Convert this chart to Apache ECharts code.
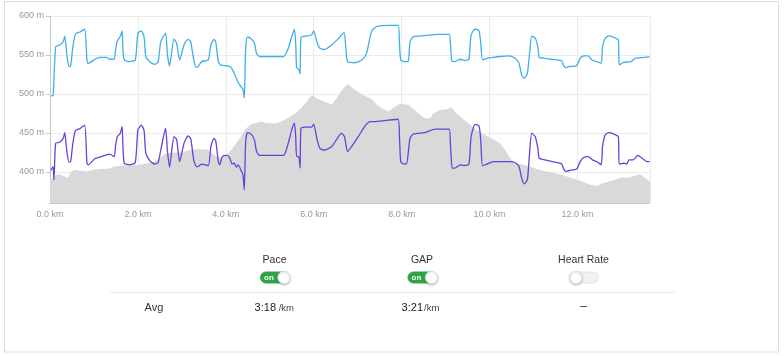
<!DOCTYPE html>
<html><head><meta charset="utf-8">
<script src="https://cdn.jsdelivr.net/npm/echarts@6/dist/echarts.min.js"></script>
<style>html,body{margin:0;padding:0;background:#fff}#c{width:784px;height:356px}</style>
</head><body><div id="c"></div>
<script>
// Elevation profile [km, m]
var elevation = [[0,389],[0.02,389.7],[0.11,394.9],[0.18,397],[0.30,395],[0.40,392],[0.47,399],[0.56,402.6],[0.68,401.3],[0.83,400.4],[0.98,402.6],[1.17,403.5],[1.36,404.3],[1.47,406.8],[1.70,408.6],[1.93,408.6],[2.16,410.3],[2.38,413.2],[2.50,417.5],[2.61,423],[2.76,424.8],[2.99,424.8],[3.22,428.2],[3.39,429],[3.56,429],[3.64,426],[3.79,419.6],[3.90,417.5],[4.02,421.8],[4.13,428.2],[4.21,434.6],[4.32,443],[4.43,453.8],[4.55,460.3],[4.66,462.4],[4.81,464.5],[4.93,462.4],[5.15,462.4],[5.34,466.7],[5.53,473],[5.71,481.7],[5.84,490],[5.95,498.7],[6.03,495.7],[6.14,492.3],[6.29,489],[6.41,486],[6.52,494.5],[6.63,504],[6.77,512.8],[6.94,505],[7.13,498.7],[7.32,493.2],[7.47,484.6],[7.62,479.5],[7.70,477.3],[7.81,482.4],[7.96,487.2],[8.15,486],[8.30,479.5],[8.42,473],[8.53,468.8],[8.65,468.8],[8.72,475],[8.87,479.5],[9.03,480.4],[9.14,482.5],[9.25,475],[9.40,467.5],[9.56,460.3],[9.71,453.8],[9.90,447.4],[10.05,443],[10.24,436.8],[10.35,428.2],[10.47,417.5],[10.58,411],[10.77,409],[10.96,406],[11.19,401.7],[11.42,399],[11.64,396],[11.87,392],[12.10,387.6],[12.29,383.3],[12.44,382],[12.55,384.6],[12.71,387.6],[12.86,389.7],[13.01,393.2],[13.09,392],[13.20,393],[13.31,394.9],[13.43,397],[13.54,392],[13.65,387.6]];
// Pace line (plotted in chart units)
var pace = [[0.02,497.4],[0.07,498],[0.13,560.6],[0.22,562.8],[0.30,567],[0.335,574],[0.38,552],[0.43,535],[0.47,536],[0.52,560.6],[0.58,577],[0.68,579.5],[0.79,583],[0.84,543.6],[0.87,539],[1.02,544.5],[1.13,547],[1.28,547],[1.36,544.5],[1.46,544.5],[1.49,556],[1.53,568],[1.60,574],[1.64,581],[1.66,556],[1.69,543.6],[1.81,541.4],[1.94,543.6],[2.00,578],[2.08,581],[2.14,573.5],[2.18,548],[2.27,541.4],[2.38,538],[2.46,541],[2.52,567],[2.63,578],[2.67,551],[2.72,536],[2.82,570.5],[2.88,565],[2.95,543.6],[3.05,563],[3.14,570],[3.20,567],[3.27,543.6],[3.33,534],[3.37,535],[3.45,541.4],[3.60,543.6],[3.66,563],[3.73,570],[3.77,567],[3.83,541.4],[3.89,537],[4.05,536],[4.13,533],[4.19,526.5],[4.27,516],[4.36,508],[4.39,506],[4.42,494.5],[4.45,556.4],[4.49,572.7],[4.57,571],[4.65,565],[4.70,552],[4.77,548],[5.31,548],[5.42,558.5],[5.50,573.5],[5.56,583],[5.59,565],[5.61,534],[5.66,531.6],[5.69,525.6],[5.71,572.7],[5.80,574],[5.95,575.6],[6.00,581],[6.07,567],[6.14,558.6],[6.25,557],[6.41,563],[6.56,571],[6.69,578.6],[6.73,560],[6.77,541.4],[6.94,540],[7.09,543.6],[7.20,552],[7.26,567],[7.32,581],[7.43,586.3],[7.70,588],[7.92,588],[7.95,565],[7.98,543.6],[8.08,541.4],[8.15,541.4],[8.19,567],[8.27,573.5],[8.53,574.8],[8.83,576.5],[9.08,576.5],[9.11,565],[9.14,542.7],[9.21,541.4],[9.33,544.5],[9.44,542.7],[9.53,544.5],[9.58,575.6],[9.67,583.3],[9.76,581],[9.80,565],[9.84,543.6],[9.94,545.7],[10.09,547],[10.24,548],[10.43,548.7],[10.58,545.7],[10.67,539.4],[10.73,524.4],[10.79,520],[10.86,526.5],[10.91,552],[10.96,574.4],[11.04,571.4],[11.10,560],[11.13,547],[11.26,545.7],[11.53,543.6],[11.64,542.7],[11.68,537],[11.73,533.7],[11.81,535],[11.98,536.3],[12.06,545.7],[12.14,548.7],[12.24,548.7],[12.33,543.6],[12.44,541.4],[12.54,539.4],[12.57,560.6],[12.63,571.4],[12.71,574.4],[12.82,572.7],[12.93,569],[12.95,537],[13.05,540.6],[13.22,541.4],[13.31,545.7],[13.47,546.5],[13.64,548]];
// GAP line (plotted in chart units)
var gap = [[0.02,401.7],[0.07,406.8],[0.09,389.7],[0.13,436.8],[0.22,438],[0.30,443],[0.335,450.4],[0.38,428],[0.43,412.4],[0.47,413],[0.52,436.8],[0.58,453],[0.68,455.5],[0.79,460],[0.84,411],[0.87,409],[1.02,416.7],[1.17,419.6],[1.28,421.8],[1.36,422.6],[1.46,419.6],[1.49,432.4],[1.53,445],[1.60,449.6],[1.64,458],[1.66,432],[1.69,411],[1.81,409],[1.94,412],[2.00,453.8],[2.08,460],[2.14,453],[2.18,424],[2.27,414.5],[2.38,410],[2.46,412],[2.52,428],[2.63,456],[2.67,428],[2.72,406],[2.82,445],[2.88,442],[2.95,413.2],[3.05,436.8],[3.14,446],[3.20,443],[3.27,415.4],[3.33,406.8],[3.37,406.8],[3.45,410],[3.60,408],[3.66,432.4],[3.73,443],[3.77,440],[3.83,413],[3.86,409],[3.92,419.6],[4.02,421],[4.09,417.5],[4.14,410],[4.19,411],[4.24,406],[4.28,409],[4.36,400.4],[4.39,396],[4.42,377],[4.45,436.8],[4.49,450.4],[4.57,448.7],[4.65,441],[4.70,426],[4.77,421],[5.31,421],[5.42,436.8],[5.50,453.8],[5.56,462.4],[5.59,445],[5.61,419.6],[5.66,419.6],[5.69,404.7],[5.71,456],[5.80,457.3],[5.95,457.3],[6.00,461],[6.07,443],[6.14,430],[6.25,428],[6.41,432.4],[6.56,445],[6.63,449.6],[6.70,445],[6.77,426],[6.86,432.4],[7.01,445],[7.17,459],[7.28,464.5],[7.39,464.5],[7.62,465.8],[7.92,467.5],[7.95,445],[7.98,413.2],[8.04,410.3],[8.11,410.3],[8.15,424],[8.19,443],[8.27,448.7],[8.53,450.4],[8.76,454.7],[9.08,454.7],[9.11,435],[9.15,404.7],[9.21,404.7],[9.33,409],[9.42,408],[9.53,410],[9.58,445],[9.67,461],[9.76,458.8],[9.80,440],[9.84,407.7],[9.94,410],[10.09,413.2],[10.43,413.2],[10.58,412],[10.67,406.8],[10.73,392],[10.79,384.6],[10.86,389.7],[10.91,424],[10.96,449.6],[11.04,445],[11.10,430],[11.13,417.5],[11.26,415.4],[11.53,412],[11.64,410],[11.68,404.7],[11.73,400.4],[11.81,401.7],[11.98,403.5],[12.06,413.2],[12.14,418.4],[12.24,419.6],[12.34,415.4],[12.44,413],[12.54,409],[12.57,432.4],[12.63,447.4],[12.71,450.4],[12.82,448.7],[12.93,445],[12.95,410],[13.05,411],[13.12,410],[13.17,415.4],[13.27,415.4],[13.37,421],[13.47,417.5],[13.58,413.2],[13.64,413.2]];

var columns = ['Pace', 'GAP', 'Heart Rate'];
var toggles = [true, true, false];
var avgValues = ['3:18', '3:21', '–'];
var avgUnits = [' /km', '/km', ''];
var rowLabel = 'Avg';
var distanceMax = 13.65;

var FONT = '"Liberation Sans", Helvetica, Arial, sans-serif';
var colX = [274.5, 422, 583.5];

var graphic = [
  {type:'rect', shape:{x:4.5,y:1.5,width:774,height:350.5}, style:{fill:'none', stroke:'#dddde5', lineWidth:1}, silent:true},
  {type:'line', shape:{x1:110,y1:292.5,x2:675,y2:292.5}, style:{stroke:'#e8e8e8', lineWidth:1}},
  {type:'text', x:154, y:307.5, style:{text:rowLabel, font:'11px '+FONT, fill:'#333', textAlign:'center', textVerticalAlign:'middle', align:'center', verticalAlign:'middle'}}
];
columns.forEach(function(name, i){
  var cx = colX[i];
  graphic.push({type:'text', x:cx, y:260.5, style:{text:name, font:'10.5px '+FONT, fill:'#333', textAlign:'center', textVerticalAlign:'middle', align:'center', verticalAlign:'middle'}});
  var on = toggles[i];
  var rx = cx - 14;
  graphic.push({type:'rect', shape:{x:rx, y:272, width:29, height:11, r:5.5}, style:{fill: on ? '#2fa646' : '#f1f1f1', stroke: on ? '#2fa646' : '#e4e4e4', lineWidth:1}});
  if (on) {
    graphic.push({type:'text', x:rx+8.5, y:277.3, style:{text:'on', font:'bold 8px '+FONT, fill:'#fff', textAlign:'center', textVerticalAlign:'middle', align:'center', verticalAlign:'middle'}});
  }
  graphic.push({type:'circle', shape:{cx: on ? rx+23.5 : rx+6.5, cy:277.5, r:6.3}, style:{fill:'#fff', stroke:'#dcdcdc', lineWidth:0.8, shadowBlur:2, shadowColor:'rgba(0,0,0,0.25)', shadowOffsetY:1}});
  if (avgUnits[i]) {
    var splitX = i === 0 ? cx + 1.5 : cx + 1;
    graphic.push({type:'text', x:splitX, y:308, style:{text:avgValues[i], font:'11px '+FONT, fill:'#222', textAlign:'right', textVerticalAlign:'middle', align:'right', verticalAlign:'middle'}});
    graphic.push({type:'text', x:splitX + (i === 0 ? 0 : 1), y:308.5, style:{text:avgUnits[i], font:'9.5px '+FONT, fill:'#444', textAlign:'left', textVerticalAlign:'middle', align:'left', verticalAlign:'middle'}});
  } else {
    graphic.push({type:'text', x:cx, y:307, style:{text:avgValues[i], font:'12px '+FONT, fill:'#333', textAlign:'center', textVerticalAlign:'middle', align:'center', verticalAlign:'middle'}});
  }
});

var chart = echarts.init(document.getElementById('c'), null, {renderer:'canvas'});
chart.setOption({
  animation:false,
  backgroundColor:'#fff',
  grid:{left:50, right:134, top:16, bottom:153, containLabel:false},
  xAxis:{
    type:'value', min:0, max:distanceMax, interval:2,
    axisLine:{show:true, lineStyle:{color:'#c8c8c8'}},
    axisTick:{show:false},
    axisLabel:{formatter:function(v){return v.toFixed(1)+' km';}, color:'#999', fontSize:9, fontFamily:FONT, margin:7, showMaxLabel:false},
    splitLine:{show:true, lineStyle:{color:'#ebebeb'}}
  },
  yAxis:{
    type:'value', min:360, max:600, splitNumber:5,
    axisLine:{show:true, lineStyle:{color:'#c8c8c8'}},
    axisTick:{show:true, length:4, lineStyle:{color:'#c8c8c8'}},
    axisLabel:{formatter:function(v){return v+' m';}, color:'#999', fontSize:9, fontFamily:FONT, margin:6, showMinLabel:false},
    splitLine:{show:true, lineStyle:{color:'#ebebeb'}}
  },
  series:[
    {type:'line', name:'Elevation', data:elevation, showSymbol:false, symbol:'none', lineStyle:{width:0}, areaStyle:{color:'#d9d9d9', opacity:1}, z:1},
    {type:'line', name:'Pace', data:pace, showSymbol:false, symbol:'none', smooth:0.2, lineStyle:{color:'#3bb0ea', width:1.3}, z:3},
    {type:'line', name:'GAP', data:gap, showSymbol:false, symbol:'none', smooth:0.2, lineStyle:{color:'#6b40da', width:1.3}, z:3}
  ],
  graphic:graphic
});
</script></body></html>
